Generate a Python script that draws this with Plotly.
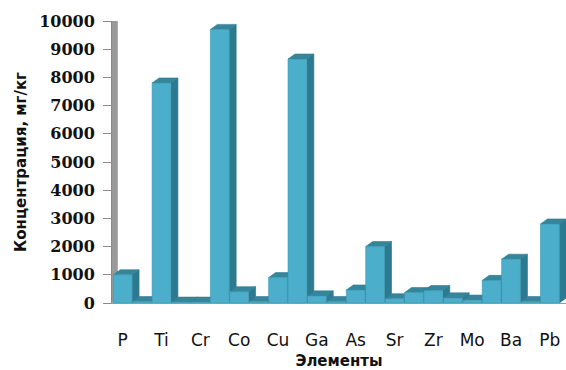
import plotly.graph_objects as go

# ---- data ----
tick_labels = ["P", "Ti", "Cr", "Co", "Cu", "Ga", "As", "Sr", "Zr", "Mo", "Ba", "Pb"]
values = [1000, 50, 7800, 30, 30, 9700, 400, 50, 900, 8650, 250, 50,
          460, 2000, 150, 370, 440, 180, 100, 800, 1550, 50, 2800]
x_title = "Элементы"
y_title = "Концентрация, мг/кг"

# ---- 3D-look geometry (in axis units) ----
W = 0.97      # front face width (category units)
DX = 0.36     # depth offset in x (category units)
DY = 180      # depth offset in y (value units)

xs = list(range(len(values)))
front_x, front_y, side_x, side_y, top_x, top_y = [], [], [], [], [], []
for x, v in zip(xs, values):
    l, r = x - W / 2, x + W / 2
    front_x += [l, r, r, l, l, None]
    front_y += [0, 0, v, v, 0, None]
    side_x += [r, r + DX, r + DX, r, r, None]
    side_y += [0, DY, v + DY, v, 0, None]
    top_x += [l, r, r + DX, l + DX, l, None]
    top_y += [v, v, v + DY, v + DY, v, None]

fig = go.Figure()
fig.add_trace(go.Scatter(x=side_x, y=side_y, mode="lines", fill="toself",
                         fillcolor="#2C7A8F", line=dict(color="#2A7488", width=0.6),
                         hoverinfo="skip", showlegend=False))
fig.add_trace(go.Scatter(x=top_x, y=top_y, mode="lines", fill="toself",
                         fillcolor="#35859B", line=dict(color="#2F7E93", width=0.6),
                         hoverinfo="skip", showlegend=False))
fig.add_trace(go.Scatter(x=front_x, y=front_y, mode="lines", fill="toself",
                         fillcolor="#4BAECA", line=dict(color="#3A97B0", width=0.6),
                         hoverinfo="skip", showlegend=False))

# left wall (gray band)
fig.add_shape(type="path", xref="x", yref="y", layer="below",
              path="M -0.55,0 L -0.25,120 L -0.25,10120 L -0.55,10000 Z",
              fillcolor="#9A9A9A", line=dict(width=0))

fig.update_layout(
    width=566, height=370,
    margin=dict(l=112, r=0, t=21, b=67),
    paper_bgcolor="white", plot_bgcolor="white",
    showlegend=False,
    xaxis=dict(
        range=[-0.55, 22.83],
        tickmode="array",
        tickvals=list(range(0, len(values), 2)),
        ticktext=tick_labels,
        ticks="outside", ticklen=22, tickcolor="rgba(0,0,0,0)",
        showgrid=False, zeroline=False,
        showline=True, linecolor="#8C9CA0", linewidth=1,
        tickfont=dict(family="DejaVu Sans", size=17, color="#111111"),
        title=dict(text=x_title, standoff=10,
                   font=dict(family="DejaVu Sans", size=15, color="#111111", weight="bold")),
    ),
    yaxis=dict(
        range=[0, 10000],
        tickmode="linear", tick0=0, dtick=1000, tickformat="d",
        ticks="outside", ticklen=8, tickcolor="#8A8A8A", tickwidth=1,
        ticklabelstandoff=5,
        showgrid=False, zeroline=False,
        showline=True, linecolor="#8A8A8A", linewidth=1,
        tickfont=dict(family="DejaVu Serif", size=16, color="#111111", weight="bold"),
        title=dict(text=y_title, standoff=8,
                   font=dict(family="DejaVu Sans", size=15, color="#111111", weight="bold")),
    ),
)

fig.write_html("out.html")
